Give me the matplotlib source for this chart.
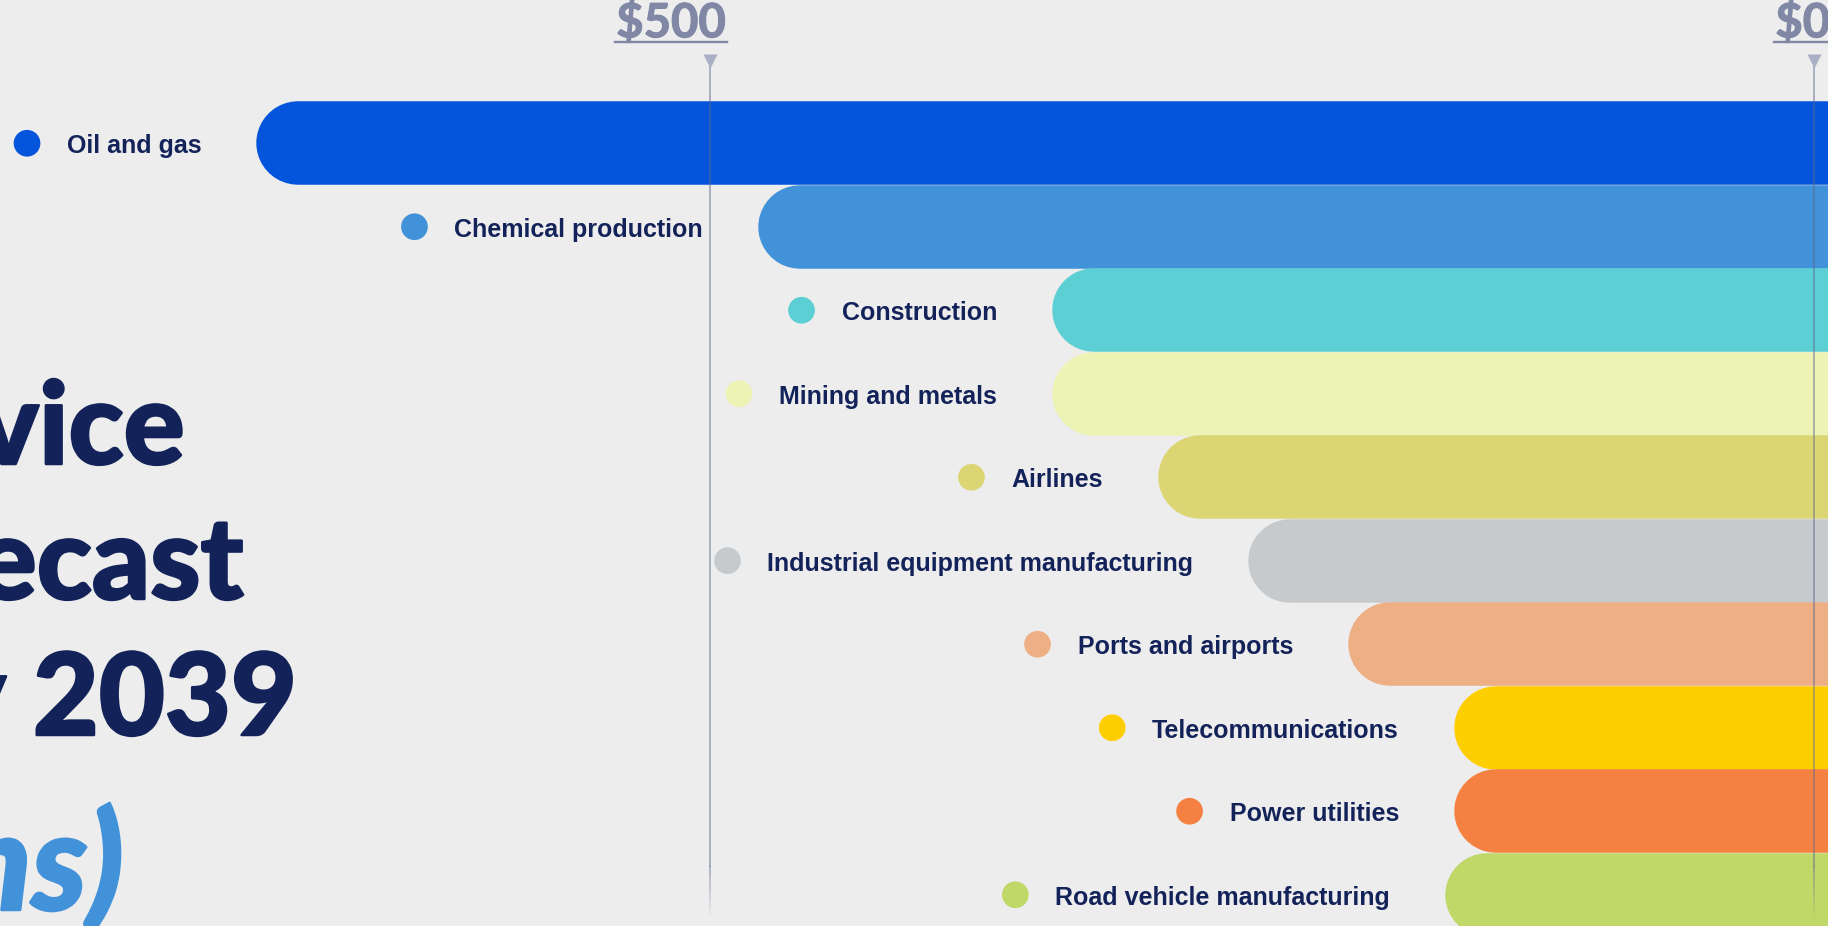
import matplotlib
matplotlib.use("Agg")
import matplotlib.pyplot as plt
import matplotlib.patheffects as pe
from matplotlib.lines import Line2D
import numpy as np

# data (US$ billions)
sectors = ["Oil and gas", "Chemical production", "Construction", "Mining and metals",
           "Airlines", "Industrial equipment manufacturing", "Ports and airports",
           "Telecommunications", "Power utilities", "Road vehicle manufacturing"]
spend = [705, 478, 345, 345, 297, 256, 211, 163, 163, 167]
bar_colors = ["#0455DB", "#4192D9", "#5BCFD3", "#EDF2B5", "#DCD574",
              "#C7CACD", "#EEAF85", "#FFCE00", "#F48142", "#C0D868"]
tick_values = [500, 0]
tick_labels = ["$500", "$0"]
title_lines = ["Service", "forecast", "by 2039"]
title_last = "(US$ billions)"

BG = "#EDEDED"
NAVY = "#13235A"
W, H, DPI = 1828, 926, 100

fig = plt.figure(figsize=(W / DPI, H / DPI), dpi=DPI, facecolor=BG)
ax = fig.add_axes([0, 0, 1, 1])
ax.set_facecolor(BG)
ax.axis("off")

# $0 sits at x=1814px, $500 at x=709.5px ; rows are 83.5px high, first row top at 101.5px
ppu = (1814 - 709.5) / 500.0
row_px = 83.5
ax.set_xlim(1814 / ppu, (1814 - W) / ppu)
ax.set_ylim((H - 101.5 - row_px / 2) / row_px, -(101.5 + row_px / 2) / row_px)

def row_of(py):
    return (py - 101.5 - row_px / 2) / row_px

# bars: thick lines with round caps, cap radius = half the row height
bar_lw = row_px * 72.0 / DPI
cap = (row_px / 2) / ppu
for i, (v, c) in enumerate(zip(spend, bar_colors)):
    ax.plot([v - cap, -60], [i, i], color=c, lw=bar_lw, solid_capstyle="round", zorder=2)

# sector labels
labels = []
for i, (name, v) in enumerate(zip(sectors, spend)):
    t = ax.annotate(name, xy=(v, i), xytext=(-55, -10), textcoords="offset pixels",
                    ha="right", va="baseline", fontsize=18, fontweight="bold",
                    family=["Liberation Sans", "DejaVu Sans"], color=NAVY, zorder=4)
    labels.append(t)

# guide lines with triangle heads and fading tails
line_top, fade_start, line_end = row_of(66), row_of(866), row_of(918)
for tv, tl in zip(tick_values, tick_labels):
    ax.plot([tv, tv], [line_top, fade_start], color="#5A6590", alpha=0.5, lw=1.3, zorder=5)
    ys = np.linspace(fade_start, line_end, 40)
    for k in range(len(ys) - 1):
        ax.plot([tv, tv], [ys[k], ys[k + 1]], color="#5A6590", solid_capstyle="butt",
                alpha=0.5 * (1 - (k + 1) / len(ys)), lw=1.3, zorder=5)
    ax.plot(tv, row_of(61), marker="v", ms=9.4, color="#A9AFC4", mec="none", zorder=5)
    ax.annotate(tl, xy=(tv, row_of(0)), xytext=(16, -37.3), textcoords="offset pixels",
                ha="right", va="baseline", fontsize=34, fontweight="bold",
                family=["Lato", "DejaVu Sans"], color="#8088A6", zorder=5,
                path_effects=[pe.withStroke(linewidth=0.8, foreground="#8088A6")])

# big title, cropped at the left edge
title_font = ["Lato", "DejaVu Sans"]
heavy = [pe.withStroke(linewidth=1.8, foreground=NAVY)]
for txt, xr, base in zip(title_lines, [185, 243.5, 297], [464, 599, 735]):
    fig.text(xr / W, 1 - base / H, txt, ha="right", va="baseline", fontsize=82,
             fontweight="black", family=title_font, color=NAVY, path_effects=heavy)
fig.text(124 / W, 1 - 910 / H, title_last, ha="right", va="baseline", fontsize=98,
         fontweight="black", style="italic", family=title_font, color="#4192D9",
         path_effects=[pe.withStroke(linewidth=1.8, foreground="#4192D9")])

fig.canvas.draw()
inv = ax.transData.inverted()

# dots in front of the labels
for i, (t, c) in enumerate(zip(labels, bar_colors)):
    bb = t.get_window_extent()
    dx, _ = inv.transform((bb.x0 - 40, 0))
    ax.scatter([dx], [i], s=(26.7 * 72 / DPI) ** 2, color=c, edgecolors="none", zorder=4)

# underline the axis labels
for child in ax.texts:
    if child.get_text() in tick_labels:
        bb = child.get_window_extent()
        base_y = H - 42.3
        fig.add_artist(Line2D([bb.x0 - 1, bb.x1 + 1], [base_y, base_y],
                              transform=None, color="#8088A6", lw=1.7))

fig.savefig("out.png", dpi=DPI, facecolor=BG)
